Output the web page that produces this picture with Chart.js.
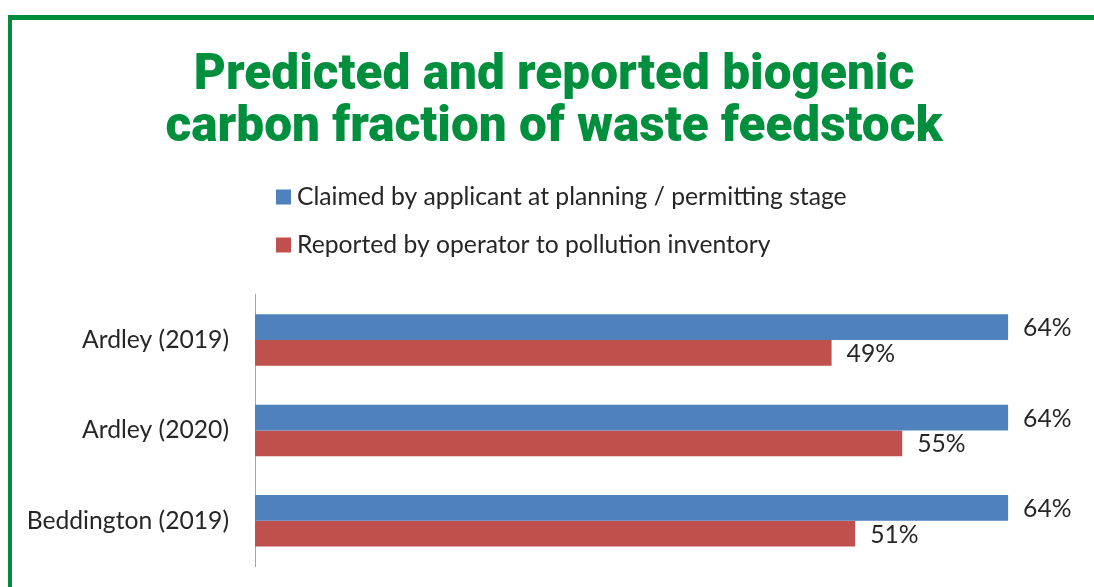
<!DOCTYPE html>
<html><head><meta charset="utf-8">
<script src="https://cdn.jsdelivr.net/npm/chart.js@4.4.1/dist/chart.umd.min.js"></script>
<style>
html,body{margin:0;padding:0;background:#fff;overflow:hidden}
#wrap{position:relative;width:1094px;height:587px;overflow:hidden}
#frame{position:absolute;left:8px;top:15px;width:1200px;height:700px;border-style:solid;border-color:#008C3A;border-width:5px 4px 4px 4px;box-sizing:border-box}
canvas{position:absolute;left:0;top:0}
</style></head><body>
<div id="wrap"><div id="frame"></div><canvas id="c" width="1094" height="587"></canvas></div>
<script>
const categories = ['Ardley (2019)', 'Ardley (2020)', 'Beddington (2019)'];
const seriesNames = ['Claimed by applicant at planning / permitting stage', 'Reported by operator to pollution inventory'];
const claimed = [64, 64, 64];
const reported = [49, 55, 51];
const titleLines = ['Predicted and reported biogenic', 'carbon fraction of waste feedstock'];

const TEXT = '#262626';
const FONT = 'Lato, "Open Sans", sans-serif';
const FSIZE = 24.7;

const legendPlugin = {
  id: 'customLegend',
  afterDraw(chart) {
    const ctx = chart.ctx;
    const x = 276, ys = [197, 245];
    ctx.save();
    chart.data.datasets.forEach((ds, i) => {
      ctx.fillStyle = ds.backgroundColor;
      ctx.fillRect(x, ys[i] - 7.5, 15, 15);
      ctx.fillStyle = TEXT;
      ctx.font = FSIZE + 'px ' + FONT;
      ctx.textBaseline = 'middle';
      ctx.textAlign = 'left';
      ctx.fillText(ds.label, x + 21, ys[i]);
    });
    ctx.restore();
  }
};

const valueLabels = {
  id: 'valueLabels',
  afterDatasetsDraw(chart) {
    const ctx = chart.ctx;
    ctx.save();
    ctx.fillStyle = TEXT;
    ctx.font = FSIZE + 'px ' + FONT;
    ctx.textBaseline = 'middle';
    ctx.textAlign = 'left';
    chart.data.datasets.forEach((ds, i) => {
      chart.getDatasetMeta(i).data.forEach((bar, j) => {
        ctx.fillText(ds.data[j] + '%', bar.x + 15, bar.y + 1);
      });
    });
    ctx.restore();
  }
};

function draw() {
  new Chart(document.getElementById('c'), {
    type: 'bar',
    data: {
      labels: categories,
      datasets: [
        { label: seriesNames[0], data: claimed, backgroundColor: '#4F81BD', borderWidth: 0 },
        { label: seriesNames[1], data: reported, backgroundColor: '#C0504D', borderWidth: 0 }
      ]
    },
    options: {
      indexAxis: 'y',
      responsive: false,
      animation: false,
      devicePixelRatio: 1,
      layout: { padding: { top: 0, right: 0, bottom: 21, left: 14 } },
      datasets: { bar: { categoryPercentage: 0.57, barPercentage: 1 } },
      plugins: {
        legend: { display: false },
        tooltip: { enabled: false },
        title: {
          display: true,
          text: titleLines,
          color: '#008F3D',
          font: { family: 'Roboto, Lato, sans-serif', weight: '900', size: 49.5, lineHeight: 1.06 },
          padding: { top: 50, bottom: 140 }
        }
      },
      scales: {
        x: { display: false, min: 0, max: 71.3 },
        y: {
          afterFit(scale) { scale.width = 241; scale.paddingTop = 0; scale.paddingBottom = 0; },
          grid: { display: false, drawTicks: false },
          border: { display: true, color: '#A6A6A6', width: 1 },
          ticks: { color: TEXT, font: { family: FONT, size: FSIZE }, padding: 26 }
        }
      }
    },
    plugins: [legendPlugin, valueLabels]
  });
}
if (document.fonts && document.fonts.load) {
  Promise.all([document.fonts.load('900 50px Roboto'), document.fonts.load('24px Lato')]).then(draw, draw);
} else draw();
</script>
</body></html>
